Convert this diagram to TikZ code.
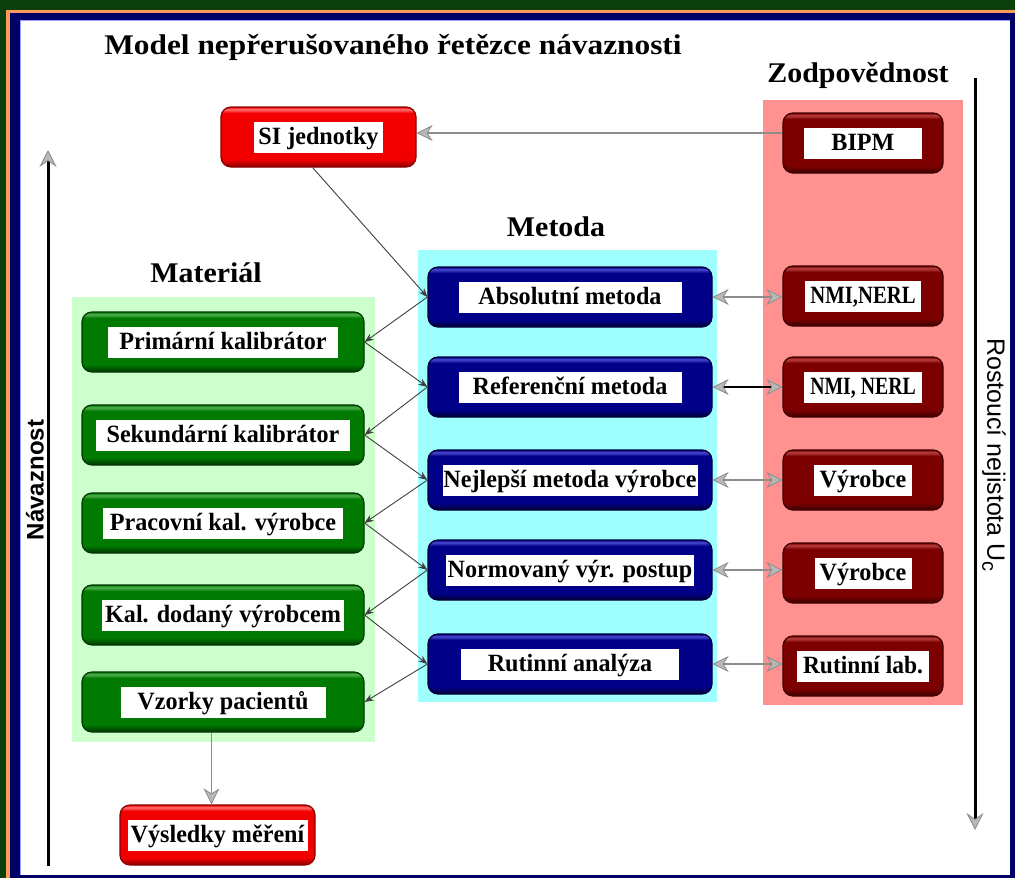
\documentclass[tikz,border=0pt]{standalone}
\usepackage{fontspec}
\usepackage{graphicx}
\setmainfont{Liberation Serif}
\newfontfamily\sidefont{Liberation Sans}
\usetikzlibrary{arrows.meta,calc}

\definecolor{bgGreen}{HTML}{0B3F0B}
\definecolor{bgOrange}{HTML}{FF9A5C}
\definecolor{bgNavy}{HTML}{000066}
\definecolor{pGreen}{HTML}{CCFFCC}
\definecolor{pCyan}{HTML}{9FFFFF}
\definecolor{pPink}{HTML}{FF9191}

\definecolor{rBase}{HTML}{F20000}
\definecolor{rDk}{HTML}{8A0000}
\definecolor{rLt}{HTML}{FF7070}
\definecolor{dBase}{HTML}{7C0000}
\definecolor{dDk}{HTML}{3C0000}
\definecolor{dLt}{HTML}{B84040}
\definecolor{nBase}{HTML}{000088}
\definecolor{nDk}{HTML}{000038}
\definecolor{nLt}{HTML}{4A4AD0}
\definecolor{gBase}{HTML}{007A00}
\definecolor{gDk}{HTML}{003600}
\definecolor{gLt}{HTML}{50B050}
\definecolor{headFill}{HTML}{B8B8B8}
\definecolor{headLine}{HTML}{8C8C8C}

\pgfdeclareverticalshading{shRed}{100bp}{color(0bp)=(rDk); color(25bp)=(rDk); color(31bp)=(rBase); color(70bp)=(rBase); color(73bp)=(rLt); color(75bp)=(rBase); color(100bp)=(rBase)}
\pgfdeclareverticalshading{shDRed}{100bp}{color(0bp)=(dDk); color(25bp)=(dDk); color(31bp)=(dBase); color(70bp)=(dBase); color(73bp)=(dLt); color(75bp)=(dBase); color(100bp)=(dBase)}
\pgfdeclareverticalshading{shNavy}{100bp}{color(0bp)=(nDk); color(25bp)=(nDk); color(31bp)=(nBase); color(70bp)=(nBase); color(73bp)=(nLt); color(75bp)=(nBase); color(100bp)=(nBase)}
\pgfdeclareverticalshading{shGreen}{100bp}{color(0bp)=(gDk); color(25bp)=(gDk); color(31bp)=(gBase); color(70bp)=(gBase); color(73bp)=(gLt); color(75bp)=(gBase); color(100bp)=(gBase)}

\newcommand\lbl[3][1.05]{{\setlength\fboxsep{0pt}\colorbox{white}{\makebox[#2pt]{\rule[-8pt]{0pt}{31pt}\scalebox{#1}[1.08]{#3}}}}}

\tikzset{
  nd/.style={rounded corners=10pt, inner sep=0pt, minimum height=60pt, line width=1.2pt,
             font=\fontsize{23}{26}\selectfont\bfseries},
  redn/.style={nd, shade, shading=shRed, draw=rDk},
  drn/.style={nd, shade, shading=shDRed, draw=dDk, minimum width=160pt},
  navn/.style={nd, shade, shading=shNavy, draw=nDk, minimum width=284pt},
  grn/.style={nd, shade, shading=shGreen, draw=gDk, minimum width=282pt},
  head/.style={inner sep=0pt, anchor=base, font=\fontsize{28.5}{32}\selectfont\bfseries},
  zz/.style={draw=black!75, line width=0.9pt, -{Stealth[length=9pt, width=7pt]}},
  garr/.style={draw=headLine, line width=1.5pt, {Stealth[length=16pt, width=16pt, inset=5pt, fill=headFill, color=headLine, line width=0.8pt]}-{Stealth[length=16pt, width=16pt, inset=5pt, fill=headFill, color=headLine, line width=0.8pt]}},
  axisline/.style={draw=black, line width=3pt}
}

\begin{document}
\begin{tikzpicture}[x=1pt, y=-1pt]
\useasboundingbox (0,0) rectangle (1015,878);
% frame
\fill[bgGreen] (0,0) rectangle (1015,878);
\fill[bgOrange] (6,10) rectangle (1015,878);
\fill[bgNavy] (10,13) rectangle (1015,878);
\fill[white] (20,20) rectangle (1010,875);
\draw[color=blue!40, line width=0.8pt] (20.4,875) -- (20.4,20.4) -- (1010,20.4);

% panels
\fill[pGreen] (72,297) rectangle (375,742);
\fill[pCyan] (418,250) rectangle (717,702);
\fill[pPink] (763,100) rectangle (963,705);

% headings
\node[head] (title) at (393,54) {\scalebox{1.1}[1]{Model nepřerušovaného řetězce návaznosti}};
\node[head] (hzod) at (858,82) {\scalebox{1.05}[1]{Zodpovědnost}};
\node[head] (hmet) at (556,236) {\scalebox{1.05}[1]{Metoda}};
\node[head] (hmat) at (206,282) {\scalebox{1.05}[1]{Materiál}};

% nodes
\node[redn, minimum width=195pt] (si) at (318.5,137) {\lbl{129}{SI jednotky}};
\node[drn] (bipm) at (863,143) {\lbl{118}{BIPM}};

\node[navn] (abs) at (570,297) {\lbl{223}{Absolutní metoda}};
\node[navn] (ref) at (570,387) {\lbl{223}{Referenční metoda}};
\node[navn] (nej) at (570,480) {\lbl{255}{Nejlepší metoda výrobce}};
\node[navn] (norm) at (570,570) {\lbl{248}{Normovaný výr. postup}};
\node[navn] (rut) at (570,664) {\lbl{218}{Rutinní analýza}};

\node[drn] (nmi1) at (863,296) {\lbl[0.9]{116}{NMI,NERL}};
\node[drn] (nmi2) at (863,387) {\lbl[0.86]{118}{NMI, NERL}};
\node[drn] (vyr1) at (863,480) {\lbl{98}{Výrobce}};
\node[drn] (vyr2) at (863,573) {\lbl{97}{Výrobce}};
\node[drn] (rlab) at (863,666) {\lbl[1.02]{132}{Rutinní lab.}};

\node[grn] (prim) at (223,342) {\lbl{230}{Primární kalibrátor}};
\node[grn] (sek) at (223,435) {\lbl{255}{Sekundární kalibrátor}};
\node[grn] (prac) at (223,523) {\lbl{240}{Pracovní kal. výrobce}};
\node[grn] (kal) at (223,615) {\lbl{242}{Kal. dodaný výrobcem}};
\node[grn] (vz) at (223,702) {\lbl{205}{Vzorky pacientů}};

\node[redn, minimum width=195pt] (vys) at (217.5,835) {\lbl{180}{Výsledky měření}};

% connectors
\draw[draw=headLine, line width=1.5pt, {Stealth[length=16pt, width=16pt, inset=5pt, fill=headFill, color=headLine, line width=0.8pt]}-] ([yshift=4pt]si.east) -- ([yshift=4pt]si.east -| bipm.west);
\draw[zz] ($(si.south west)!0.47!(si.south east)$) -- (abs.west);

\draw[zz] (abs.west) -- (prim.east);
\draw[zz] (prim.east) -- (ref.west);
\draw[zz] (ref.west) -- (sek.east);
\draw[zz] (sek.east) -- (nej.west);
\draw[zz] (nej.west) -- (prac.east);
\draw[zz] (prac.east) -- (norm.west);
\draw[zz] (norm.west) -- (kal.east);
\draw[zz] (kal.east) -- (rut.west);
\draw[zz] (rut.west) -- (vz.east);

\draw[garr] (abs.east) -- (abs.east -| nmi1.west);
\draw[garr, draw=black] (ref.east) -- (ref.east -| nmi2.west);
\draw[garr] (nej.east) -- (nej.east -| vyr1.west);
\draw[garr] (norm.east) -- (norm.east -| vyr2.west);
\draw[garr] (rut.east) -- (rut.east -| rlab.west);

\draw[draw=headLine, line width=1.5pt, -{Stealth[length=16pt, width=16pt, inset=5pt, fill=headFill, color=headLine, line width=0.8pt]}] ([xshift=-6pt]vys.north |- vz.south) -- ([xshift=-6pt]vys.north);

% side axes
\coordinate (nbot) at (48,866);
\coordinate (ntop) at (48,150);
\draw[axisline, -{Stealth[length=17pt, width=17pt, inset=6pt, fill=headFill, color=headLine, line width=0.8pt]}] (nbot) -- (ntop);
\node[rotate=90, font=\sidefont\fontsize{24}{26}\selectfont\bfseries, inner sep=0pt] (nav) at (35,480) {Návaznost};

\coordinate (rtop) at (975,78);
\coordinate (rbot) at (975,830);
\draw[axisline, -{Stealth[length=17pt, width=17pt, inset=6pt, fill=headFill, color=headLine, line width=0.8pt]}] (rtop) -- (rbot);
\node[rotate=-90, font=\sidefont\fontsize{25}{27}\selectfont, inner sep=0pt] (rost) at (994,455) {Rostoucí nejistota U\raisebox{-5pt}{\fontsize{20}{20}\selectfont c}};
\end{tikzpicture}
\end{document}
